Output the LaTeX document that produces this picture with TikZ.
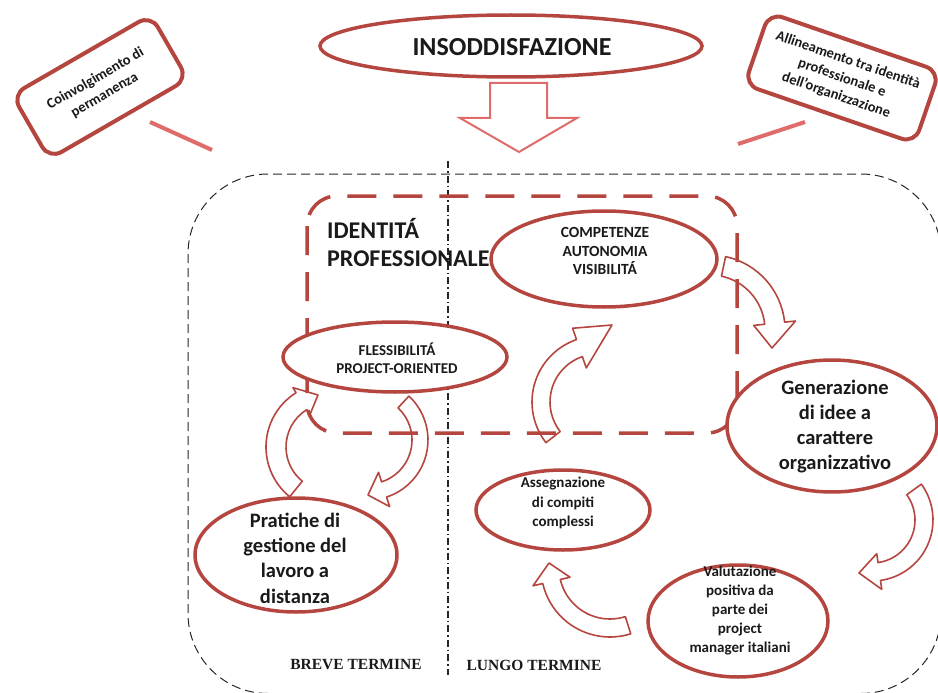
\documentclass[tikz,border=0pt]{standalone}
\usepackage{fontspec}
\setmainfont{Carlito}
\newfontfamily\timesfont{Liberation Serif}[BoldFont={Liberation Serif Bold}]
\usetikzlibrary{shapes.geometric,calc}
\definecolor{accred}{HTML}{B5463F}
\definecolor{lightred}{HTML}{E06B6B}
\definecolor{txt}{HTML}{1A1A1A}
% curved block arrow: cx, cy, r, tail angle, head-base angle, half width, head half width, tip x, tip y
\newcommand\carrow[9]{%
  \pgfmathsetmacro\crOut{#3+#6}%
  \pgfmathsetmacro\crIn{#3-#6}%
  \pgfmathsetmacro\crHo{#3+#7}%
  \pgfmathsetmacro\crHi{#3-#7}%
  \draw[barrow] (#1,-#2) ++(#4:\crOut) arc[start angle=#4, end angle=#5, radius=\crOut]
    -- ($(#1,-#2)+(#5:\crHo)$) -- (#8,-#9) -- ($(#1,-#2)+(#5:\crHi)$)
    -- ($(#1,-#2)+(#5:\crIn)$) arc[start angle=#5, end angle=#4, radius=\crIn] -- cycle;}
\tikzset{
  oval/.style={ellipse, draw=accred, line width=3.5pt, fill=white, inner sep=0pt},
  ovaltext/.style={align=center, text=txt, inner sep=0pt},
  callout/.style={rectangle, rounded corners=14pt, draw=accred, line width=4pt, fill=white,
    align=center, text=txt, font=\bfseries\fontsize{14.5}{18.5}\selectfont, inner sep=2pt},
  barrow/.style={draw=accred, line width=1.6pt, line join=round},
  tailline/.style={draw=lightred, line width=4pt},
  bigarrow/.style={draw=lightred, line width=2pt, fill=white, line join=miter},
  outerbox/.style={draw=black!85, line width=1pt, dash pattern=on 9pt off 5pt, rounded corners=80pt},
  idbox/.style={draw=accred, line width=3.5pt, dash pattern=on 29pt off 17pt, rounded corners=30pt},
  divider/.style={draw=black!85, line width=1.5pt, dash pattern=on 7pt off 3pt on 1.5pt off 3pt},
  termlabel/.style={font=\timesfont\bfseries\fontsize{15.5}{18}\selectfont, text=txt, inner sep=0pt}
}
\begin{document}
\begin{tikzpicture}[x=1pt,y=1pt]
\useasboundingbox (0,0) rectangle (938,-693);
\clip (0,0) rectangle (938,-693);

% outer dashed region and divider
\draw[outerbox] (188,-174) rectangle (941,-693.5);
\coordinate (vtop) at (448,-161);
\coordinate (vbot) at (448,-675);
\draw[divider] (vtop) -- (vbot);

% professional identity box
\draw[idbox] (307,-196) rectangle (737,-433);
\node[anchor=west, align=left, inner sep=0pt, text=txt, font=\bfseries\fontsize{24}{28}\selectfont] (idt) at (327,-243) {IDENTITÁ\\PROFESSIONALE};

% callouts with tails
\coordinate (lt1) at (150,-122);
\coordinate (lt2) at (212,-150);
\draw[tailline] (lt1) -- (lt2);
\coordinate (rt1) at (805,-122);
\coordinate (rt2) at (738,-144);
\draw[tailline] (rt1) -- (rt2);
\node[callout, rotate=30, minimum width=160pt, minimum height=74pt] (lcall) at (100,-87) {Coinvolgimento di\\permanenza};
\node[callout, rotate=-19, minimum width=180pt, minimum height=76pt] (rcall) at (842,-78) {Allineamento tra identità\\professionale e\\dell’organizzazione};

% top ellipse and big arrow
\node[oval, minimum width=382pt, minimum height=62pt] (ins) at (511,-46) {};
\node[ovaltext, font=\bfseries\fontsize{26}{30}\selectfont] (inst) at (512,-47) {INSODDISFAZIONE};
\draw[bigarrow] (490,-83) -- (547,-83) -- (547,-118) -- (577,-118) -- (519,-152) -- (460,-118) -- (490,-118) -- cycle;

% curved block arrows
\carrow{330}{447}{54}{231}{122}{10}{16}{318}{395}
\carrow{368}{440}{52}{47}{-72}{8}{18}{368}{495}
\carrow{598}{402}{57}{218}{109}{9}{21}{612}{325}
\carrow{710}{330}{65}{78}{6}{10}{21}{772}{348}
\carrow{872}{520}{52}{36}{-82}{9}{18}{859}{573}
\carrow{610}{568}{60}{287.5}{193}{9}{19}{549}{563}

% ellipses
\node[oval, minimum width=226pt, minimum height=96pt] (comp) at (604,-259) {};
\node[ovaltext, font=\bfseries\fontsize{15.5}{18.5}\selectfont] (compt) at (605,-251) {COMPETENZE\\AUTONOMIA\\VISIBILITÁ};

\node[oval, minimum width=224pt, minimum height=70pt] (fless) at (395,-357) {};
\node[ovaltext, font=\bfseries\fontsize{15}{18}\selectfont] (flesst) at (397,-358) {FLESSIBILITÁ\\PROJECT-ORIENTED};

\node[oval, minimum width=210pt, minimum height=132pt] (gen) at (832,-426) {};
\node[ovaltext, font=\bfseries\fontsize{20.5}{25}\selectfont] (gent) at (835,-427) {Generazione\\di idee a\\carattere\\organizzativo};

\node[oval, minimum width=202pt, minimum height=114pt] (prat) at (296,-555) {};
\node[ovaltext, font=\bfseries\fontsize{20.5}{25.3}\selectfont] (pratt) at (295,-558) {Pratiche di\\gestione del\\lavoro a\\distanza};

\node[oval, minimum width=174pt, minimum height=80pt] (asse) at (563,-510) {};
\node[ovaltext, font=\bfseries\fontsize{15}{19.5}\selectfont] (asset) at (563,-503) {Assegnazione\\di compiti\\complessi};

\node[oval, minimum width=180pt, minimum height=112pt] (valu) at (738,-621) {};
\node[ovaltext, font=\bfseries\fontsize{15}{19}\selectfont] (valut) at (740,-611) {Valutazione\\positiva da\\parte dei\\project\\manager italiani};

% term labels
\node[termlabel] (breve) at (356,-665) {BREVE TERMINE};
\node[termlabel] (lungo) at (534,-665) {LUNGO TERMINE};
\end{tikzpicture}
\end{document}
